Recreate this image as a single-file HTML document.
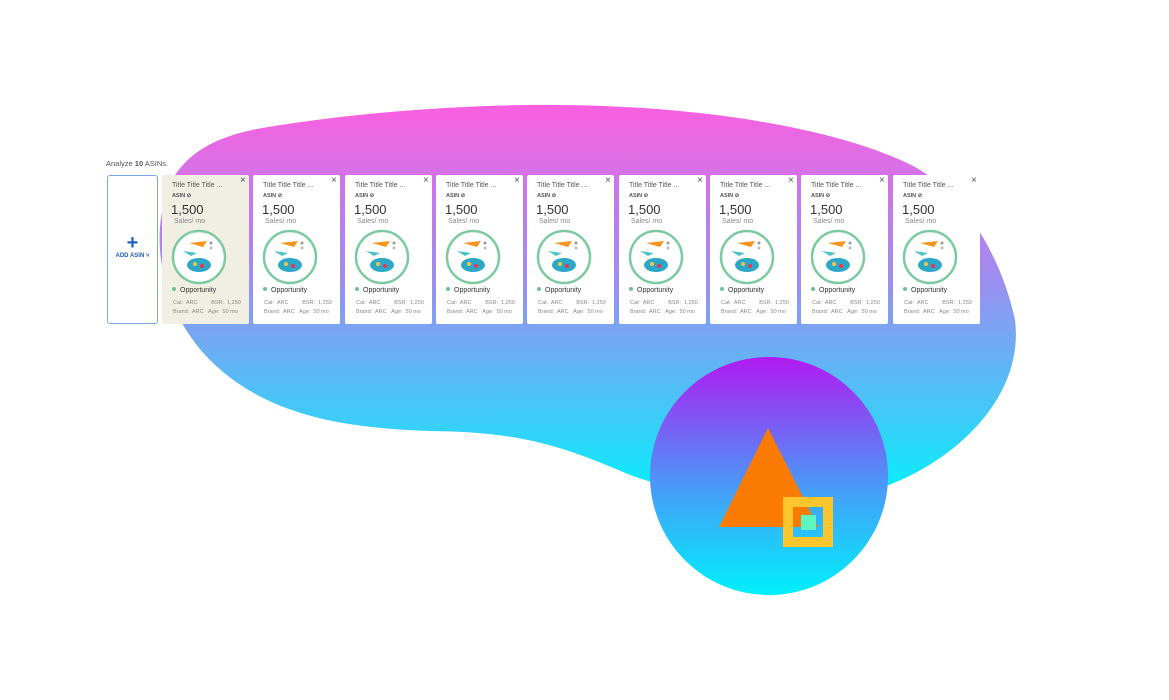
<!DOCTYPE html>
<html><head><meta charset="utf-8"><style>
body{margin:0;width:1169px;height:700px;background:#fff;position:relative;overflow:hidden;font-family:"Liberation Sans",sans-serif}
.c{position:absolute;top:175px;width:87px;height:149px;background:#fff;border-radius:2px}
.c .x{position:absolute;left:78px;top:0px;font-size:10px;color:#555}
.c .t{position:absolute;left:10px;top:7px;font-size:7px;color:#555;white-space:nowrap}
.c .a{position:absolute;left:10px;top:18px;font-size:5.5px;color:#555;font-weight:bold}
.c .n{position:absolute;left:9px;top:27px;font-size:13px;color:#333}
.c .s{position:absolute;left:12px;top:43px;font-size:7px;color:#888}
.c .o{position:absolute;left:10px;top:112px;font-size:7px;color:#333}
.c .o:before{content:"";display:inline-block;width:4px;height:4px;border-radius:50%;background:#6cc493;margin-right:4px;vertical-align:1px}
.c .r1,.c .r2{position:absolute;left:11px;font-size:5.5px;color:#888;white-space:nowrap}
.c .r1{top:125px}.c .r2{top:134px}
.c svg{position:absolute;left:9px;top:54px}
</style></head><body>
<svg width="1169" height="700" style="position:absolute;left:0;top:0">
<defs>
<linearGradient id="g1" x1="0" y1="0" x2="0" y2="1"><stop offset="0" stop-color="#fa5fe0"/><stop offset="0.45" stop-color="#9b8ff0"/><stop offset="1" stop-color="#05f0fc"/></linearGradient>
<linearGradient id="g2" x1="0" y1="0" x2="0" y2="1"><stop offset="0" stop-color="#b11af0"/><stop offset="0.6" stop-color="#3fa6f8"/><stop offset="1" stop-color="#00f0fc"/></linearGradient>
</defs>
<path d="M268 127 C360 112 470 104 560 105 C700 106 840 128 915 167 C960 192 1000 250 1015 320 C1025 400 950 465 880 488 C780 505 700 500 630 475 C560 445 520 432 430 431 C330 428 260 410 210 360 C160 310 145 230 175 175 C195 145 230 133 268 127 Z" fill="url(#g1)"/>
<circle cx="769" cy="476" r="119" fill="url(#g2)"/>
<polygon points="768,428 719,527 818,527" fill="#fb7a00"/>
<rect x="788" y="502" width="40" height="40" fill="none" stroke="#fec62c" stroke-width="10"/>
<rect x="801" y="515" width="15" height="15" fill="#5ef5c0"/>
</svg>
<div style="position:absolute;left:106px;top:159px;font-size:7.5px;color:#555">Analyze <b>10</b> ASINs.</div>
<div style="position:absolute;left:107px;top:175px;width:49px;height:147px;border:1px solid #7aa7e6;border-radius:3px;background:#fff">
<div style="position:absolute;left:0;width:49px;top:58px;text-align:center;font-size:20px;font-weight:bold;color:#1f5fb8;line-height:18px">+</div>
<div style="position:absolute;left:0;width:49px;top:77px;text-align:center;font-size:6px;font-weight:bold;color:#1f5fb8">ADD ASIN ˅</div>
</div>
<div class="c" style="left:162px;background:#f1efe4">
<div class="x">×</div><div class="t">Title Title Title ...</div><div class="a">ASIN ⊘</div><div class="n">1,500</div><div class="s">Sales/ mo</div>
<svg width="56" height="56"><circle cx="28" cy="28" r="26" fill="#fff" stroke="#7ccaa0" stroke-width="2.5"/><path d="M18 14 L36 12 L32 18Z" fill="#f7941d"/><path d="M12 22 L26 24 L20 27Z" fill="#45c3c8"/><circle cx="40" cy="14" r="1.5" fill="#999"/><circle cx="40" cy="19" r="1.5" fill="#bbb"/><ellipse cx="28" cy="36" rx="12" ry="7" fill="#2ba7c8"/><circle cx="24" cy="35" r="2" fill="#f5c542"/><circle cx="31" cy="37" r="2" fill="#e35"/></svg>
<div class="o">Opportunity</div><div class="r1">Cat:&nbsp; ARC &nbsp;&nbsp;&nbsp;&nbsp;&nbsp;&nbsp;&nbsp; BSR: &nbsp;1,250</div><div class="r2">Brand:&nbsp; ARC &nbsp;&nbsp;Age: &nbsp;50 mo</div></div>
<div class="c" style="left:253px">
<div class="x">×</div><div class="t">Title Title Title ...</div><div class="a">ASIN ⊘</div><div class="n">1,500</div><div class="s">Sales/ mo</div>
<svg width="56" height="56"><circle cx="28" cy="28" r="26" fill="#fff" stroke="#7ccaa0" stroke-width="2.5"/><path d="M18 14 L36 12 L32 18Z" fill="#f7941d"/><path d="M12 22 L26 24 L20 27Z" fill="#45c3c8"/><circle cx="40" cy="14" r="1.5" fill="#999"/><circle cx="40" cy="19" r="1.5" fill="#bbb"/><ellipse cx="28" cy="36" rx="12" ry="7" fill="#2ba7c8"/><circle cx="24" cy="35" r="2" fill="#f5c542"/><circle cx="31" cy="37" r="2" fill="#e35"/></svg>
<div class="o">Opportunity</div><div class="r1">Cat:&nbsp; ARC &nbsp;&nbsp;&nbsp;&nbsp;&nbsp;&nbsp;&nbsp; BSR: &nbsp;1,250</div><div class="r2">Brand:&nbsp; ARC &nbsp;&nbsp;Age: &nbsp;50 mo</div></div>
<div class="c" style="left:345px">
<div class="x">×</div><div class="t">Title Title Title ...</div><div class="a">ASIN ⊘</div><div class="n">1,500</div><div class="s">Sales/ mo</div>
<svg width="56" height="56"><circle cx="28" cy="28" r="26" fill="#fff" stroke="#7ccaa0" stroke-width="2.5"/><path d="M18 14 L36 12 L32 18Z" fill="#f7941d"/><path d="M12 22 L26 24 L20 27Z" fill="#45c3c8"/><circle cx="40" cy="14" r="1.5" fill="#999"/><circle cx="40" cy="19" r="1.5" fill="#bbb"/><ellipse cx="28" cy="36" rx="12" ry="7" fill="#2ba7c8"/><circle cx="24" cy="35" r="2" fill="#f5c542"/><circle cx="31" cy="37" r="2" fill="#e35"/></svg>
<div class="o">Opportunity</div><div class="r1">Cat:&nbsp; ARC &nbsp;&nbsp;&nbsp;&nbsp;&nbsp;&nbsp;&nbsp; BSR: &nbsp;1,250</div><div class="r2">Brand:&nbsp; ARC &nbsp;&nbsp;Age: &nbsp;50 mo</div></div>
<div class="c" style="left:436px">
<div class="x">×</div><div class="t">Title Title Title ...</div><div class="a">ASIN ⊘</div><div class="n">1,500</div><div class="s">Sales/ mo</div>
<svg width="56" height="56"><circle cx="28" cy="28" r="26" fill="#fff" stroke="#7ccaa0" stroke-width="2.5"/><path d="M18 14 L36 12 L32 18Z" fill="#f7941d"/><path d="M12 22 L26 24 L20 27Z" fill="#45c3c8"/><circle cx="40" cy="14" r="1.5" fill="#999"/><circle cx="40" cy="19" r="1.5" fill="#bbb"/><ellipse cx="28" cy="36" rx="12" ry="7" fill="#2ba7c8"/><circle cx="24" cy="35" r="2" fill="#f5c542"/><circle cx="31" cy="37" r="2" fill="#e35"/></svg>
<div class="o">Opportunity</div><div class="r1">Cat:&nbsp; ARC &nbsp;&nbsp;&nbsp;&nbsp;&nbsp;&nbsp;&nbsp; BSR: &nbsp;1,250</div><div class="r2">Brand:&nbsp; ARC &nbsp;&nbsp;Age: &nbsp;50 mo</div></div>
<div class="c" style="left:527px">
<div class="x">×</div><div class="t">Title Title Title ...</div><div class="a">ASIN ⊘</div><div class="n">1,500</div><div class="s">Sales/ mo</div>
<svg width="56" height="56"><circle cx="28" cy="28" r="26" fill="#fff" stroke="#7ccaa0" stroke-width="2.5"/><path d="M18 14 L36 12 L32 18Z" fill="#f7941d"/><path d="M12 22 L26 24 L20 27Z" fill="#45c3c8"/><circle cx="40" cy="14" r="1.5" fill="#999"/><circle cx="40" cy="19" r="1.5" fill="#bbb"/><ellipse cx="28" cy="36" rx="12" ry="7" fill="#2ba7c8"/><circle cx="24" cy="35" r="2" fill="#f5c542"/><circle cx="31" cy="37" r="2" fill="#e35"/></svg>
<div class="o">Opportunity</div><div class="r1">Cat:&nbsp; ARC &nbsp;&nbsp;&nbsp;&nbsp;&nbsp;&nbsp;&nbsp; BSR: &nbsp;1,250</div><div class="r2">Brand:&nbsp; ARC &nbsp;&nbsp;Age: &nbsp;50 mo</div></div>
<div class="c" style="left:619px">
<div class="x">×</div><div class="t">Title Title Title ...</div><div class="a">ASIN ⊘</div><div class="n">1,500</div><div class="s">Sales/ mo</div>
<svg width="56" height="56"><circle cx="28" cy="28" r="26" fill="#fff" stroke="#7ccaa0" stroke-width="2.5"/><path d="M18 14 L36 12 L32 18Z" fill="#f7941d"/><path d="M12 22 L26 24 L20 27Z" fill="#45c3c8"/><circle cx="40" cy="14" r="1.5" fill="#999"/><circle cx="40" cy="19" r="1.5" fill="#bbb"/><ellipse cx="28" cy="36" rx="12" ry="7" fill="#2ba7c8"/><circle cx="24" cy="35" r="2" fill="#f5c542"/><circle cx="31" cy="37" r="2" fill="#e35"/></svg>
<div class="o">Opportunity</div><div class="r1">Cat:&nbsp; ARC &nbsp;&nbsp;&nbsp;&nbsp;&nbsp;&nbsp;&nbsp; BSR: &nbsp;1,250</div><div class="r2">Brand:&nbsp; ARC &nbsp;&nbsp;Age: &nbsp;50 mo</div></div>
<div class="c" style="left:710px">
<div class="x">×</div><div class="t">Title Title Title ...</div><div class="a">ASIN ⊘</div><div class="n">1,500</div><div class="s">Sales/ mo</div>
<svg width="56" height="56"><circle cx="28" cy="28" r="26" fill="#fff" stroke="#7ccaa0" stroke-width="2.5"/><path d="M18 14 L36 12 L32 18Z" fill="#f7941d"/><path d="M12 22 L26 24 L20 27Z" fill="#45c3c8"/><circle cx="40" cy="14" r="1.5" fill="#999"/><circle cx="40" cy="19" r="1.5" fill="#bbb"/><ellipse cx="28" cy="36" rx="12" ry="7" fill="#2ba7c8"/><circle cx="24" cy="35" r="2" fill="#f5c542"/><circle cx="31" cy="37" r="2" fill="#e35"/></svg>
<div class="o">Opportunity</div><div class="r1">Cat:&nbsp; ARC &nbsp;&nbsp;&nbsp;&nbsp;&nbsp;&nbsp;&nbsp; BSR: &nbsp;1,250</div><div class="r2">Brand:&nbsp; ARC &nbsp;&nbsp;Age: &nbsp;50 mo</div></div>
<div class="c" style="left:801px">
<div class="x">×</div><div class="t">Title Title Title ...</div><div class="a">ASIN ⊘</div><div class="n">1,500</div><div class="s">Sales/ mo</div>
<svg width="56" height="56"><circle cx="28" cy="28" r="26" fill="#fff" stroke="#7ccaa0" stroke-width="2.5"/><path d="M18 14 L36 12 L32 18Z" fill="#f7941d"/><path d="M12 22 L26 24 L20 27Z" fill="#45c3c8"/><circle cx="40" cy="14" r="1.5" fill="#999"/><circle cx="40" cy="19" r="1.5" fill="#bbb"/><ellipse cx="28" cy="36" rx="12" ry="7" fill="#2ba7c8"/><circle cx="24" cy="35" r="2" fill="#f5c542"/><circle cx="31" cy="37" r="2" fill="#e35"/></svg>
<div class="o">Opportunity</div><div class="r1">Cat:&nbsp; ARC &nbsp;&nbsp;&nbsp;&nbsp;&nbsp;&nbsp;&nbsp; BSR: &nbsp;1,250</div><div class="r2">Brand:&nbsp; ARC &nbsp;&nbsp;Age: &nbsp;50 mo</div></div>
<div class="c" style="left:893px">
<div class="x">×</div><div class="t">Title Title Title ...</div><div class="a">ASIN ⊘</div><div class="n">1,500</div><div class="s">Sales/ mo</div>
<svg width="56" height="56"><circle cx="28" cy="28" r="26" fill="#fff" stroke="#7ccaa0" stroke-width="2.5"/><path d="M18 14 L36 12 L32 18Z" fill="#f7941d"/><path d="M12 22 L26 24 L20 27Z" fill="#45c3c8"/><circle cx="40" cy="14" r="1.5" fill="#999"/><circle cx="40" cy="19" r="1.5" fill="#bbb"/><ellipse cx="28" cy="36" rx="12" ry="7" fill="#2ba7c8"/><circle cx="24" cy="35" r="2" fill="#f5c542"/><circle cx="31" cy="37" r="2" fill="#e35"/></svg>
<div class="o">Opportunity</div><div class="r1">Cat:&nbsp; ARC &nbsp;&nbsp;&nbsp;&nbsp;&nbsp;&nbsp;&nbsp; BSR: &nbsp;1,250</div><div class="r2">Brand:&nbsp; ARC &nbsp;&nbsp;Age: &nbsp;50 mo</div></div>
</body></html>
